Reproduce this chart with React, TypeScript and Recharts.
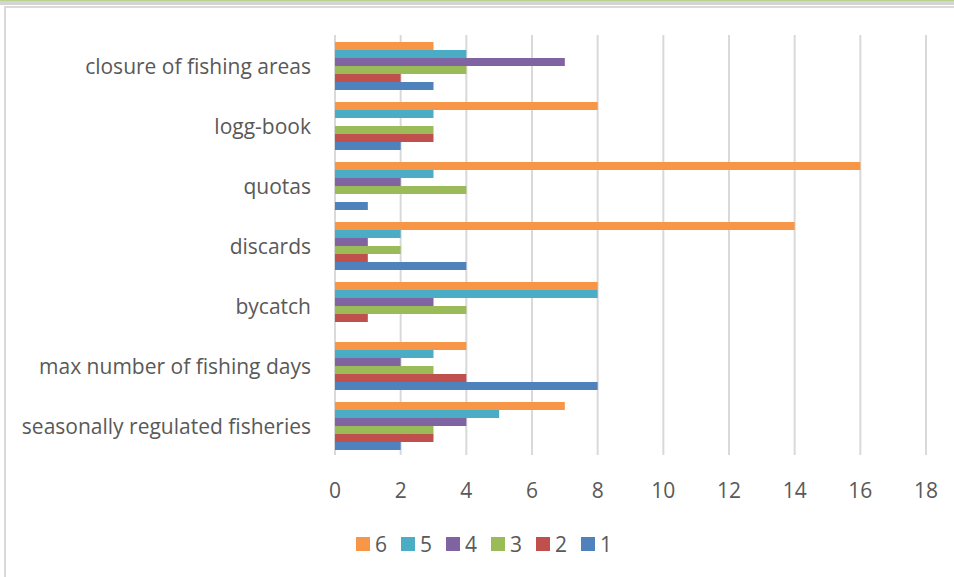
import React from "react";
import {
  BarChart,
  Bar,
  XAxis,
  YAxis,
  CartesianGrid,
  Legend,
} from "recharts";

// categories, top to bottom as drawn
const categories = [
  "closure of fishing areas",
  "logg-book",
  "quotas",
  "discards",
  "bycatch",
  "max number of fishing days",
  "seasonally regulated fisheries",
];

// one array per answer value, same order as categories
const s6 = [3, 8, 16, 14, 8, 4, 7];
const s5 = [4, 3, 3, 2, 8, 3, 5];
const s4 = [7, 0, 2, 1, 3, 2, 4];
const s3 = [4, 3, 4, 2, 4, 3, 3];
const s2 = [2, 3, 0, 1, 1, 4, 3];
const s1 = [3, 2, 1, 4, 0, 8, 2];

const xTicks = [0, 2, 4, 6, 8, 10, 12, 14, 16, 18];

const series = [
  { key: "6", values: s6, color: "#F79646" },
  { key: "5", values: s5, color: "#4BACC6" },
  { key: "4", values: s4, color: "#8064A2" },
  { key: "3", values: s3, color: "#9BBB59" },
  { key: "2", values: s2, color: "#C0504D" },
  { key: "1", values: s1, color: "#4F81BD" },
];

const data = categories.map((name, i) => {
  const row: Record<string, string | number> = { name };
  series.forEach((s) => {
    row[s.key] = s.values[i];
  });
  return row;
});

const font = "'Open Sans', sans-serif";
const textColor = "#595959";

export default function App() {
  return (
    <div
      style={{
        position: "fixed",
        left: 0,
        top: 0,
        width: 954,
        height: 577,
        background: "#fff",
        overflow: "hidden",
        fontFamily: font,
      }}
    >
      {/* strip at the top of the page */}
      <div
        style={{
          position: "absolute",
          left: 0,
          top: 0,
          width: 954,
          height: 4,
          background: "#d4d4d4",
          borderTop: "1px solid #b9d28e",
        }}
      />
      {/* chart frame */}
      <div
        style={{
          position: "absolute",
          left: 4,
          top: 6,
          width: 1000,
          height: 600,
          border: "2px solid #d9d9d9",
        }}
      />
      <div style={{ position: "absolute", left: 0, top: 0 }}>
        <BarChart
          width={954}
          height={577}
          data={data}
          layout="vertical"
          margin={{ top: 35, right: 28, left: 0, bottom: 82 }}
          barCategoryGap={7}
          barGap={0}
        >
          <CartesianGrid
            horizontal={false}
            stroke="#d9d9d9"
            strokeWidth={2}
          />
          <XAxis
            type="number"
            domain={[0, 18]}
            ticks={xTicks}
            interval={0}
            height={40}
            axisLine={false}
            tickLine={false}
            tickSize={0}
            tickMargin={28}
            tick={{ fill: textColor, fontSize: 21, fontFamily: font }}
          />
          <YAxis
            type="category"
            dataKey="name"
            width={335}
            axisLine={false}
            tickLine={false}
            tickSize={0}
            tickMargin={24}
            tick={{ fill: textColor, fontSize: 21, fontFamily: font, dy: 2 }}
          />
          {series.map((s) => (
            <Bar
              key={s.key}
              dataKey={s.key}
              fill={s.color}
              isAnimationActive={false}
            />
          ))}
          <Legend
            layout="horizontal"
            align="center"
            verticalAlign="middle"
            iconType="square"
            iconSize={14}
            itemSorter={(item: any) => -Number(item.value)}
            wrapperStyle={{ top: 531, left: 14, width: 954 }}
            formatter={(value) => (
              <span
                style={{
                  display: "inline-block",
                  verticalAlign: "middle",
                  lineHeight: "22px",
                  color: textColor,
                  fontSize: 21,
                  fontFamily: font,
                  marginLeft: 1,
                  marginRight: 4,
                }}
              >
                {value}
              </span>
            )}
          />
        </BarChart>
      </div>
    </div>
  );
}
